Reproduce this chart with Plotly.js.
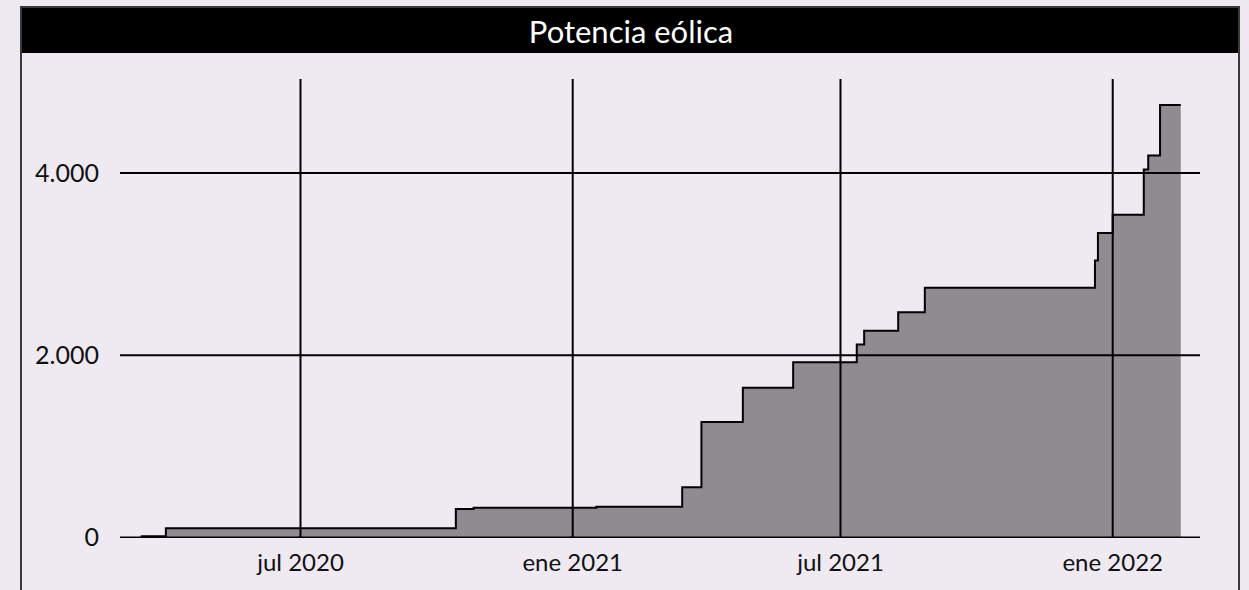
<!DOCTYPE html>
<html>
<head>
<meta charset="utf-8">
<script src="https://cdn.plot.ly/plotly-3.0.1.min.js"></script>
<style>
  html, body { margin: 0; padding: 0; background: #efe9f1; }
  #chart { width: 1249px; height: 590px; }
</style>
</head>
<body>
<div id="chart"></div>
<script>
// Fechas de cambio de potencia (step "hv")
const dates = [
  '2020-03-15', '2020-04-01', '2020-10-14', '2020-10-26', '2021-01-17',
  '2021-03-16', '2021-03-29', '2021-04-26', '2021-05-30', '2021-07-12',
  '2021-07-17', '2021-08-09', '2021-08-27', '2021-12-20', '2021-12-22',
  '2022-01-01', '2022-01-22', '2022-01-25', '2022-02-02', '2022-02-16'
];
// Potencia eólica acumulada (MW)
const potencia = [
  12, 100, 312, 327, 338,
  551, 1266, 1643, 1921, 2117,
  2269, 2470, 2740, 3040, 3340,
  3541, 4038, 4192, 4745, 4745
];
const xTickVals = ['2020-07-01', '2021-01-01', '2021-07-01', '2022-01-01'];
const xTickText = ['jul 2020', 'ene 2021', 'jul 2021', 'ene 2022'];
const yTickVals = [0, 2000, 4000];
const chartTitle = 'Potencia eólica';

const W = 1249, H = 590;
const L = 120, R = 49, T = 79, B = 52;
const pw = W - L - R, ph = H - T - B;
const px = v => (v - L) / pw;
const py = v => (H - B - v) / ph;

const bg = '#efe9f1';
const font = 'Lato, "Open Sans", sans-serif';

const trace = {
  x: dates,
  y: potencia,
  type: 'scatter',
  mode: 'lines',
  line: { shape: 'hv', color: '#000000', width: 2 },
  fill: 'tozeroy',
  fillcolor: '#8f8b90',
  hoverinfo: 'x+y'
};

// Grid lines drawn above the filled area, built from the tick arrays
const gridShapes = [];
xTickVals.forEach(v => gridShapes.push({
  type: 'line', xref: 'x', yref: 'paper', layer: 'above',
  x0: v, x1: v, y0: 0, y1: 1,
  line: { color: '#000000', width: 2 }
}));
yTickVals.forEach(v => gridShapes.push({
  type: 'line', xref: 'paper', yref: 'y', layer: 'above',
  x0: 0, x1: 1, y0: v, y1: v,
  line: { color: '#000000', width: 2 }
}));

const layout = {
  width: W,
  height: H,
  margin: { l: L, r: R, t: T, b: B, pad: 0 },
  paper_bgcolor: bg,
  plot_bgcolor: bg,
  separators: ',.',
  showlegend: false,
  font: { family: font, color: '#111111', size: 25 },
  title: {
    text: chartTitle,
    font: { family: font, color: '#ffffff', size: 31 },
    xref: 'container', x: 631 / W, xanchor: 'center',
    yref: 'container', y: 1 - 32 / H, yanchor: 'middle'
  },
  xaxis: {
    type: 'date',
    range: ['2020-03-01', '2022-03-01'],
    tickmode: 'array',
    tickvals: xTickVals,
    ticktext: xTickText,
    showgrid: false,
    zeroline: false,
    showline: false,
    ticks: '',
    ticklabelstandoff: 8,
    tickfont: { family: font, size: 24, color: '#111111' },
    fixedrange: true
  },
  yaxis: {
    range: [-6, 5030],
    tickmode: 'array',
    tickvals: yTickVals,
    tickformat: ',d',
    showgrid: false,
    zeroline: false,
    showline: false,
    ticks: '',
    ticklabelstandoff: 20,
    tickfont: { family: font, size: 25, color: '#111111' },
    fixedrange: true
  },
  shapes: [
    {
      type: 'rect', xref: 'paper', yref: 'paper', layer: 'below',
      x0: px(21), x1: px(1239), y0: py(53), y1: py(7),
      fillcolor: '#000000', line: { width: 0 }
    },
    {
      type: 'rect', xref: 'paper', yref: 'paper', layer: 'above',
      x0: px(21), x1: px(1239), y0: py(600), y1: py(7),
      fillcolor: 'rgba(0,0,0,0)', line: { color: '#3a3a3a', width: 2 }
    }
  ].concat(gridShapes)
};

Plotly.newPlot('chart', [trace], layout, { displayModeBar: false, staticPlot: true });
</script>
</body>
</html>
